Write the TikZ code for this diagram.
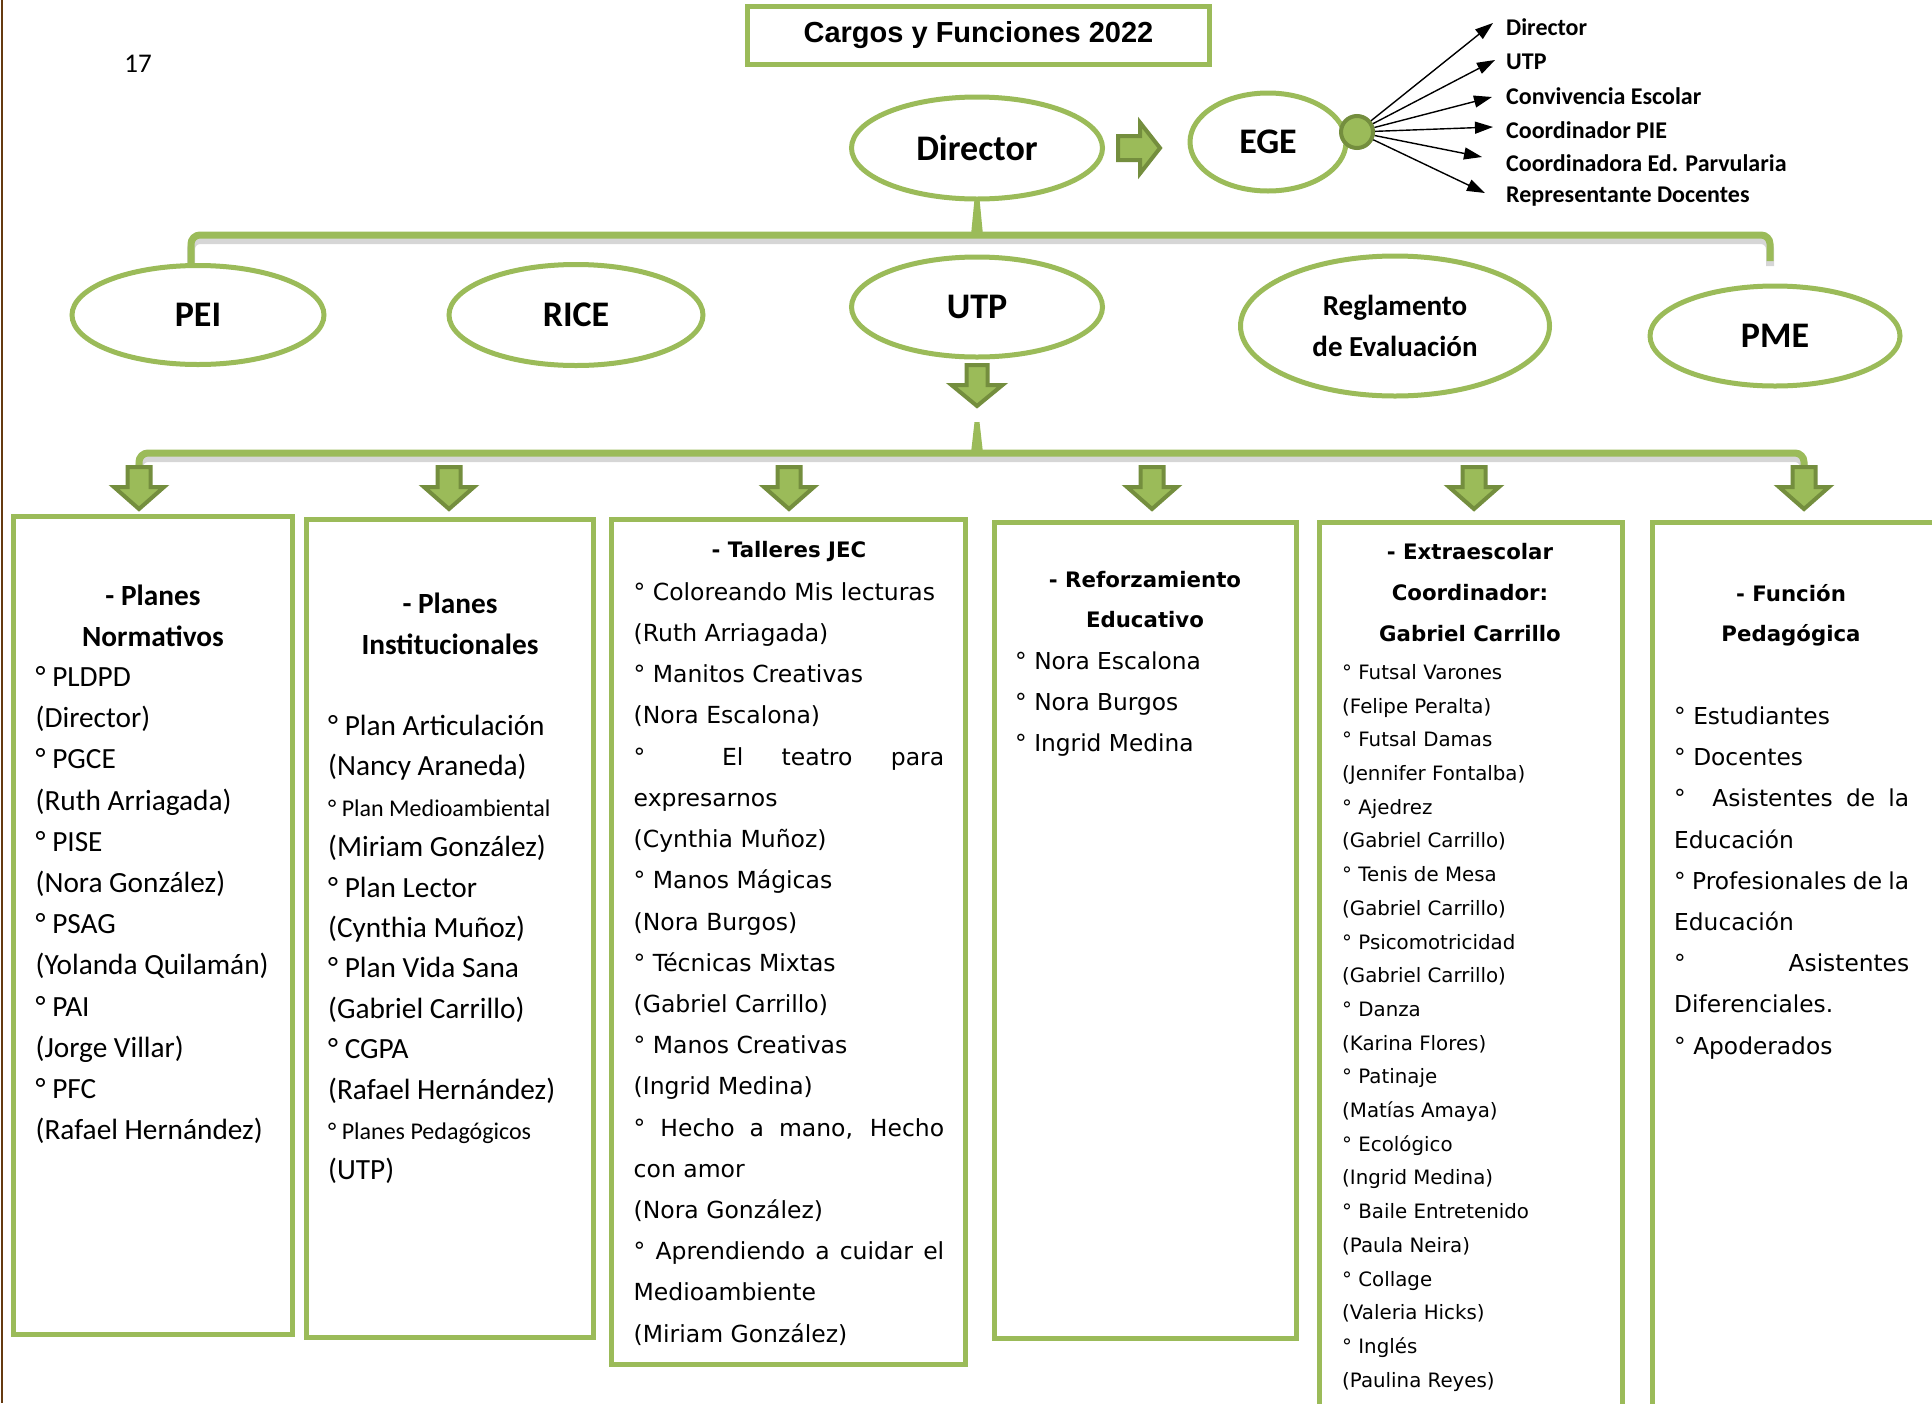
\documentclass[tikz,border=0pt]{standalone}
\usepackage{fontspec}
\setmainfont{Carlito}
\newfontfamily\dvs{DejaVu Sans}
\newfontfamily\lsans{Liberation Sans}
\usetikzlibrary{shapes.geometric,arrows.meta,calc}
\definecolor{og}{RGB}{155,187,89}
\definecolor{ogd}{RGB}{116,142,62}
\definecolor{brn}{RGB}{102,58,16}
\newcommand\jlc[1]{\makebox[310.5pt][s]{#1}}
\newcommand\jlf[1]{\makebox[235pt][s]{#1}}
\newcommand\sm[1]{{\fontsize{24}{28}\selectfont #1}}
\newcommand\boxlines[5]{%
  \foreach \t [count=\i] in {#5}
    \node[anchor=mid west, inner sep=0pt] (#1\i) at (#2, #3+#4*\i-#4) {\t};}
\begin{document}
\begin{tikzpicture}[x=1pt,y=-1pt,
  ell/.style={ellipse, draw=og, line width=5pt, fill=white, inner sep=0pt, outer sep=0pt,
    font=\bfseries\fontsize{36}{40}\selectfont},
  boxst/.style={rectangle, draw=og, line width=5pt, inner sep=0pt, outer sep=0pt},
  blk/.style={fill=og, draw=ogd, line width=4pt, line join=miter},
  barln/.style={draw=og, line width=7pt, rounded corners=9pt},
  barsh/.style={draw=black, opacity=0.16, line width=8pt, rounded corners=9pt},
  lab/.style={anchor=west, inner sep=0pt, font=\bfseries\fontsize{24}{28}\selectfont},
  earr/.style={-{Triangle[length=18pt,width=12pt]}, line width=1.4pt, black},
  headc/.style={inner sep=0pt, font=\bfseries\fontsize{29.3}{41}\selectfont},
  headd/.style={inner sep=0pt, font=\dvs\bfseries\fontsize{21.3}{41}\selectfont}
]
\useasboundingbox (0,0) rectangle (1932,1403);
\fill[white] (0,0) rectangle (1932,1403);
\clip (0,0) rectangle (1932,1403);

% page border line
\draw[brn, line width=2.5pt] (2,0) -- (2,1403);

% page number
\node[font=\fontsize{27}{30}\selectfont, inner sep=0pt] (pg) at (138,64) {17};

% title
\node[draw=og, line width=5pt, minimum width=462, minimum height=58, inner sep=0pt,
  font=\lsans\bfseries\fontsize{29}{32}\selectfont] (title) at (978.5,35) {Cargos y Funciones 2022};

% coordinates for bars
\coordinate (barY) at (0,235);
\coordinate (barY2) at (0,453);

% first level ellipses
\node[ell, minimum width=251, minimum height=102] (dir) at (977,148) {Director};
\node[ell, minimum width=156, minimum height=98] (ege) at (1268,142) {EGE};
\path (198,315) coordinate (peiC) (1775,336) coordinate (pmeC);

% top bracket
\coordinate (b1l) at ($(peiC)+(-7,-50)$);
\coordinate (b1r) at ($(pmeC)+(-5,-75)$);
\draw[barsh] ($(b1l)+(0,5)$) -- ($(b1l |- barY)+(0,5)$) -- ($(b1r |- barY)+(0,5)$) -- ($(b1r)+(0,5)$);
\draw[barln] (b1l) -- (b1l |- barY) -- (b1r |- barY) -- (b1r);
\fill[og] ($(dir.south)+(-2.5,0)$) -- ($(dir.south)+(2.5,0)$) -- ($(dir.south |- barY)+(6,0)$) -- ($(dir.south |- barY)+(-6,0)$) -- cycle;

% second level ellipses
\node[ell, minimum width=252, minimum height=99] (pei) at (peiC) {PEI};
\node[ell, minimum width=254, minimum height=101] (rice) at (576,315) {RICE};
\node[ell, minimum width=251, minimum height=100] (utp) at (977,307) {UTP};
\node[ell, minimum width=309, minimum height=140, align=center,
  font=\bfseries\fontsize{29}{41}\selectfont] (reg) at (1395,326) {Reglamento\\de Evaluación};
\node[ell, minimum width=250, minimum height=100] (pme) at (pmeC) {PME};

% Director -> EGE block arrow
\draw[blk, shift={($(dir.east)+(15.5,0)$)}] (0,-12) -- (22,-12) -- (22,-25.5) -- (42,0) -- (22,25.5) -- (22,12) -- (0,12) -- cycle;

% EGE hub and labels
\node[circle, fill=og, draw=ogd, line width=4pt, minimum size=32, inner sep=0pt] (hub) at (1357,132) {};
\node[lab] (e1) at (1506,27) {Director};
\node[lab] (e2) at (1506,62) {UTP};
\node[lab] (e3) at (1506,96) {Convivencia Escolar};
\node[lab] (e4) at (1506,130) {Coordinador PIE};
\node[lab] (e5) at (1506,163) {Coordinadora Ed. Parvularia};
\node[lab] (e6) at (1506,197) {Representante Docentes};
\draw[earr] (hub) -- ($(e1.west)+(-13,-4)$);
\draw[earr] (hub) -- ($(e2.west)+(-11,-2)$);
\draw[earr] (hub) -- ($(e3.west)+(-14,1)$);
\draw[earr] (hub) -- ($(e4.west)+(-13,-3)$);
\draw[earr] (hub) -- ($(e5.west)+(-24,-6)$);
\draw[earr] (hub) -- ($(e6.west)+(-21,-4)$);

% UTP down block arrow
\draw[blk, shift={($(utp.south)+(0,8)$)}] (-10.5,0) -- (10.5,0) -- (10.5,20) -- (25.5,20) -- (0,41) -- (-25.5,20) -- (-10.5,20) -- cycle;

% second bracket
\coordinate (u2) at ($(utp.south)+(0,65)$);
\coordinate (a1) at (139,467);
\coordinate (a2) at (449,467);
\coordinate (a3) at (789,467);
\coordinate (a4) at (1152,467);
\coordinate (a5) at (1474,467);
\coordinate (a6) at (1804,467);
\draw[barsh] ($(a1)+(0,5)$) -- ($(a1 |- barY2)+(0,5)$) -- ($(a6 |- barY2)+(0,5)$) -- ($(a6)+(0,5)$);
\draw[barln] (a1) -- (a1 |- barY2) -- (a6 |- barY2) -- (a6);
\fill[og] ($(u2)+(-2.5,0)$) -- ($(u2)+(2.5,0)$) -- ($(u2 |- barY2)+(6,0)$) -- ($(u2 |- barY2)+(-6,0)$) -- cycle;

% small block arrows
\foreach \a in {a1,a2,a3,a4,a5,a6}
  \draw[blk, shift={(\a)}] (-11.5,0) -- (11.5,0) -- (11.5,20) -- (25,20) -- (0,42) -- (-25,20) -- (-11.5,20) -- cycle;

% boxes
\node[boxst, minimum width=279, minimum height=818] (box1) at (153,925.5) {};
\node[boxst, minimum width=287, minimum height=818] (box2) at (450,928.5) {};
\node[boxst, minimum width=354, minimum height=845] (box3) at (788.5,942) {};
\node[boxst, minimum width=302, minimum height=816] (box4) at (1145.5,930.5) {};
\node[boxst, minimum width=303, minimum height=907.5] (box5) at (1471,976.25) {};
\node[boxst, minimum width=317.5, minimum height=907.5] (box6) at (1811.25,976.25) {};

% box 1
\node[headc] (h1a) at (153,595) {- Planes};
\node[headc] (h1b) at (153,636) {Normativos};
\begin{scope}[font=\fontsize{29.3}{41}\selectfont]
\boxlines{t1-}{35.5}{684}{41.2}{° PLDPD, (Director), ° PGCE, (Ruth Arriagada), ° PISE, (Nora González), ° PSAG, (Yolanda Quilamán), ° PAI, (Jorge Villar), ° PFC, (Rafael Hernández)}
\end{scope}

% box 2
\node[headc] (h2a) at (450,603) {- Planes};
\node[headc] (h2b) at (450,644) {Institucionales};
\begin{scope}[font=\fontsize{29.3}{41}\selectfont]
\boxlines{t2-}{328}{733}{40.4}{° Plan Articulación, (Nancy Araneda), {\sm{° Plan Medioambiental}}, (Miriam González), ° Plan Lector, (Cynthia Muñoz), ° Plan Vida Sana, (Gabriel Carrillo), ° CGPA, (Rafael Hernández), {\sm{° Planes Pedagógicos}}, (UTP)}
\end{scope}

% box 3
\node[headd] (h3a) at (789,552) {- Talleres JEC};
\begin{scope}[font=\dvs\fontsize{23.5}{41}\selectfont]
\boxlines{t3-}{633.5}{598}{41.2}{° Coloreando Mis lecturas, (Ruth Arriagada), ° Manitos Creativas, (Nora Escalona), {\jlc{° \ El teatro para}}, expresarnos, (Cynthia Muñoz), ° Manos Mágicas, (Nora Burgos), ° Técnicas Mixtas, (Gabriel Carrillo), ° Manos Creativas, (Ingrid Medina), {\jlc{° Hecho a mano, Hecho}}, con amor, (Nora González), {\jlc{° Aprendiendo a cuidar el}}, Medioambiente, (Miriam González)}
\end{scope}

% box 4
\node[headd] (h4a) at (1145,580) {- Reforzamiento};
\node[headd] (h4b) at (1145,620) {Educativo};
\begin{scope}[font=\dvs\fontsize{23.3}{41}\selectfont]
\boxlines{t4-}{1015}{667}{41.2}{° Nora Escalona, ° Nora Burgos, ° Ingrid Medina}
\end{scope}

% box 5
\node[headd] (h5a) at (1470,552) {- Extraescolar};
\node[headd] (h5b) at (1470,593) {Coordinador:};
\node[headd] (h5c) at (1470,634) {Gabriel Carrillo};
\begin{scope}[font=\dvs\fontsize{19.8}{33}\selectfont]
\boxlines{t5-}{1342}{677}{33.7}{° Futsal Varones, (Felipe Peralta), ° Futsal Damas, (Jennifer Fontalba), ° Ajedrez, (Gabriel Carrillo), ° Tenis de Mesa, (Gabriel Carrillo), ° Psicomotricidad, (Gabriel Carrillo), ° Danza, (Karina Flores), ° Patinaje, (Matías Amaya), ° Ecológico, (Ingrid Medina), ° Baile Entretenido, (Paula Neira), ° Collage, (Valeria Hicks), ° Inglés, (Paulina Reyes)}
\end{scope}

% box 6
\node[headd] (h6a) at (1791,593) {- Función};
\node[headd] (h6b) at (1791,635) {Pedagógica};
\begin{scope}[font=\dvs\fontsize{23.3}{41}\selectfont]
\boxlines{t6-}{1674}{722}{41.2}{° Estudiantes, ° Docentes, {\jlf{° \ Asistentes de la}}, Educación, {\jlf{° Profesionales de la}}, Educación, {\jlf{° \ Asistentes}}, Diferenciales., ° Apoderados}
\end{scope}
\end{tikzpicture}
\end{document}
